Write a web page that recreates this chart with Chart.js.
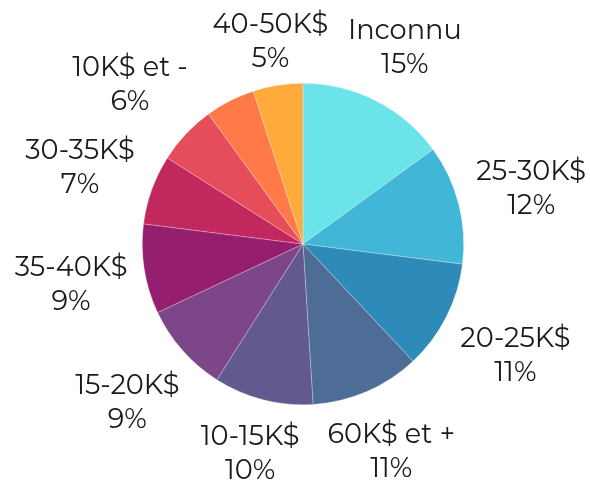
<!DOCTYPE html>
<html>
<head>
<meta charset="utf-8">
<script src="https://cdn.jsdelivr.net/npm/chart.js@4"></script>
<style>
  html, body { margin: 0; padding: 0; background: #fff; }
  #wrap { width: 590px; height: 481px; }
</style>
</head>
<body>
<div id="wrap"><canvas id="c" width="590" height="481"></canvas></div>
<script>
const categories = ["Inconnu", "25-30K$", "20-25K$", "60K$ et +", "10-15K$", "15-20K$", "35-40K$", "30-35K$", "10K$ et -", "50-60K$", "40-50K$"];
const values = [15, 12, 11, 11, 10, 9, 9, 7, 6, 5, 5];
const colors = ["#6AE4E8", "#42B6D6", "#2E8AB8", "#4E6D96", "#62598F", "#7D4689", "#951F6E", "#C1285E", "#E54D5A", "#FF7A48", "#FFAB3C"];

const FONT = '400 27.2px Montserrat, Inter, "Open Sans", sans-serif';
const LINE_H = 34;
const BOX_H = 60;
const GAP = 15;

function boxDist(cx, cy, w, h) {
  const dx = Math.max(0, Math.abs(cx) - w / 2);
  const dy = Math.max(0, Math.abs(cy) - h / 2);
  return Math.hypot(dx, dy);
}

const outsideLabels = {
  id: 'outsideLabels',
  afterDatasetsDraw(chart) {
    const ctx = chart.ctx;
    const meta = chart.getDatasetMeta(0);
    const data = chart.data.datasets[0].data;
    const total = data.reduce((a, b) => a + b, 0);
    const boxes = [];
    ctx.save();
    ctx.font = FONT;
    ctx.fillStyle = '#1a1a1a';
    ctx.textAlign = 'center';
    ctx.textBaseline = 'middle';
    meta.data.forEach((arc, i) => {
      const p = arc.getProps(['x', 'y', 'startAngle', 'endAngle', 'outerRadius'], true);
      const mid = (p.startAngle + p.endAngle) / 2;
      const lines = [chart.data.labels[i], Math.round(data[i] / total * 100) + '%'];
      const w = Math.max(...lines.map(t => ctx.measureText(t).width));
      const h = BOX_H;
      const R0 = p.outerRadius + GAP;
      const ux = Math.cos(mid), uy = Math.sin(mid);
      let lo = 0, hi = 500;
      for (let k = 0; k < 40; k++) {
        const m = (lo + hi) / 2;
        if (boxDist(m * ux, m * uy, w, h) < R0) lo = m; else hi = m;
      }
      const d = (lo + hi) / 2;
      const bx = p.x + d * ux, by = p.y + d * uy;
      const box = { x1: bx - w / 2, x2: bx + w / 2, y1: by - h / 2, y2: by + h / 2 };
      const hit = boxes.some(b => !(box.x2 < b.x1 || box.x1 > b.x2 || box.y2 < b.y1 || box.y1 > b.y2));
      if (hit) return;
      boxes.push(box);
      const ty = by + 4;
      ctx.fillText(lines[0], bx, ty - LINE_H / 2);
      ctx.fillText(lines[1], bx, ty + LINE_H / 2);
    });
    ctx.restore();
  }
};

new Chart(document.getElementById('c'), {
  type: 'pie',
  data: {
    labels: categories,
    datasets: [{
      data: values,
      backgroundColor: colors,
      borderColor: 'rgba(255,255,255,0.45)',
      borderWidth: 0.6
    }]
  },
  options: {
    responsive: false,
    animation: false,
    layout: { padding: { left: 142, right: 126, top: 83, bottom: 76 } },
    plugins: {
      legend: { display: false },
      tooltip: { enabled: false }
    }
  },
  plugins: [outsideLabels]
});
</script>
</body>
</html>
